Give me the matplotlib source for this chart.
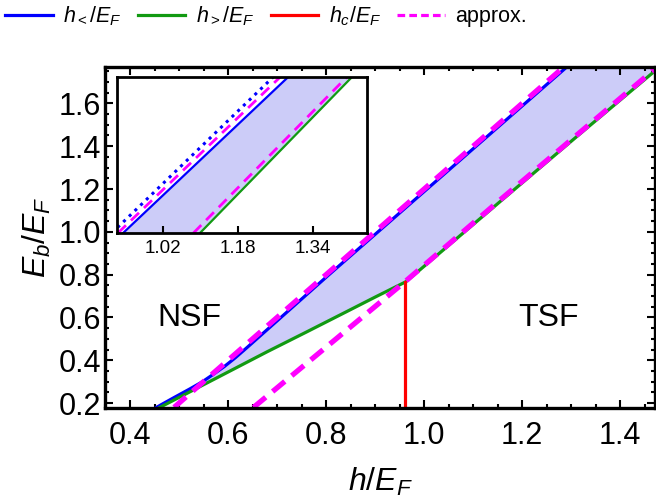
import numpy as np
import matplotlib
matplotlib.use('Agg')
import matplotlib.pyplot as plt
from matplotlib.ticker import MultipleLocator, FormatStrFormatter
from matplotlib.lines import Line2D

plt.rcParams['font.family'] = ['Liberation Sans', 'DejaVu Sans']
plt.rcParams['mathtext.fontset'] = 'custom'
plt.rcParams['mathtext.rm'] = 'Liberation Sans'
plt.rcParams['mathtext.it'] = 'Liberation Sans:italic'

# curves, (h/E_F, E_b/E_F)
h_lower = [0.454, 0.49, 0.522, 0.548, 0.571, 0.592, 0.615, 0.64, 0.70, 0.806, 1.006, 1.306]
eb_lower = [0.18, 0.226, 0.266, 0.30, 0.336, 0.37, 0.412, 0.462, 0.584, 0.80, 1.20, 1.80]

h_upper = [0.461, 0.52, 0.60, 0.68, 0.76, 0.84, 0.90, 0.963, 1.062, 1.159, 1.314, 1.496]
eb_upper = [0.18, 0.250, 0.345, 0.440, 0.532, 0.625, 0.695, 0.767, 0.96, 1.149, 1.45, 1.80]

h_apx_lo = [0.49, 1.30]
eb_apx_lo = [0.18, 1.80]
h_apx_hi = [0.652, 0.801, 0.961, 1.155, 1.491]
eb_apx_hi = [0.18, 0.463, 0.767, 1.149, 1.80]

h_c = 0.961
eb_c = [0.15, 0.767]

# inset lines (bottom, top)
ins_eb = [1.0, 1.73]
ins_blue = [0.935, 1.287]
ins_green = [1.099, 1.423]
ins_apx_lo = [0.924, 1.27]
ins_apx_hi = [1.085, 1.412]
ins_dot = [0.911, 1.255]

blue = '#0000ff'
green = '#129a12'
red = '#ff0000'
mag = '#ff00ff'
fillc = '#ccccf8'

fig = plt.figure(figsize=(6.56, 4.97), dpi=100)
ax = fig.add_axes([105/656, 1-408/497, 550/656, 341/497])

ax.fill(np.concatenate([h_lower, h_upper[::-1]]), np.concatenate([eb_lower, eb_upper[::-1]]),
        color=fillc, lw=0)
ax.plot(h_lower, eb_lower, color=blue, lw=2.3)
ax.plot(h_upper, eb_upper, color=green, lw=2.3)
ax.plot([h_c, h_c], eb_c, color=red, lw=2.3)
ax.plot(h_apx_lo, eb_apx_lo, color=mag, lw=3.8, dashes=(3, 1.7))
ax.plot(h_apx_hi, eb_apx_hi, color=mag, lw=3.8, dashes=(3, 1.7))

ax.set_xlim(0.349, 1.471)
ax.set_ylim(0.177, 1.77)
ax.xaxis.set_major_locator(MultipleLocator(0.2))
ax.xaxis.set_minor_locator(MultipleLocator(0.05))
ax.yaxis.set_major_locator(MultipleLocator(0.2))
ax.yaxis.set_minor_locator(MultipleLocator(0.05))
ax.xaxis.set_major_formatter(FormatStrFormatter('%.1f'))
ax.yaxis.set_major_formatter(FormatStrFormatter('%.1f'))
ax.tick_params(which='both', direction='in', top=True, right=True, labelsize=22, width=1.5)
ax.tick_params(which='major', length=6)
ax.tick_params(which='minor', length=3)
ax.tick_params(axis='x', pad=9)
ax.tick_params(axis='y', pad=3)
for s in ax.spines.values():
    s.set_linewidth(2.4)
ax.set_xlabel(r'$h/E_F$', fontsize=23, labelpad=11)
ax.set_ylabel(r'$E_b/E_F$', fontsize=23, labelpad=4)

ax.text(0.522, 0.597, 'NSF', fontsize=23, ha='center', va='center')
ax.text(1.253, 0.597, 'TSF', fontsize=23, ha='center', va='center')

handles = [Line2D([], [], color=blue, lw=2.3),
           Line2D([], [], color=green, lw=2.3),
           Line2D([], [], color=red, lw=2.3),
           Line2D([], [], color=mag, lw=2.3, dashes=(2.4, 1.3))]
labels = [r'$h_</E_F$', r'$h_>/E_F$', r'$h_c/E_F$', 'approx.']
fig.legend(handles, labels, loc='center left', bbox_to_anchor=(0.008, 0.968), ncol=4, frameon=False,
           fontsize=15.5, handlelength=2.2, handletextpad=0.5, columnspacing=0.75, borderaxespad=0,
           borderpad=0)

# inset
axi = fig.add_axes([117/656, 1-233/497, 250/656, 156/497])
axi.fill_betweenx(ins_eb, ins_blue, ins_green, color=fillc, lw=0)
axi.plot(ins_dot, ins_eb, color=blue, lw=2.2, ls=(0, (1, 1.6)))
axi.plot(ins_apx_lo, ins_eb, color=mag, lw=2, dashes=(4, 2.5))
axi.plot(ins_blue, ins_eb, color=blue, lw=1.6)
axi.plot(ins_green, ins_eb, color=green, lw=1.6)
axi.plot(ins_apx_hi, ins_eb, color=mag, lw=2, dashes=(4, 2.5))
axi.set_xlim(0.922, 1.455)
axi.set_ylim(1.0, 1.73)
axi.set_xticks([1.02, 1.18, 1.34])
axi.set_xticklabels(['1.02', '1.18', '1.34'])
axi.set_yticks([])
axi.tick_params(direction='in', labelsize=13.5, length=5, width=1.5, pad=5, top=False)
for s in axi.spines.values():
    s.set_linewidth(2)

fig.savefig('out.png', dpi=100)
